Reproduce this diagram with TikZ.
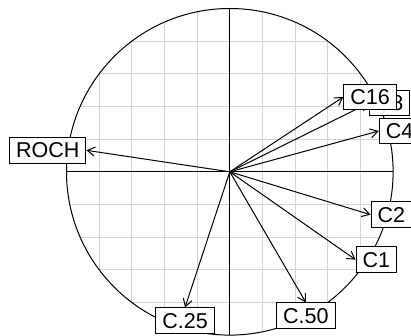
\documentclass[tikz,border=0pt]{standalone}
\usepackage{fontspec}
\setmainfont{Liberation Sans}
\usetikzlibrary{arrows.meta,backgrounds}
\begin{document}
\begin{tikzpicture}[x=1pt,y=-1pt,
  lbl/.style={draw=black, fill=white, line width=1pt, inner xsep=6.5pt, inner ysep=0pt,
    minimum height=25.5pt, text height=15.4pt, text depth=0pt,
    font=\fontsize{21.5}{24}\selectfont},
  vec/.style={line width=1pt, -{Straight Barb[length=7.5pt,width=9pt]}},
  gridline/.style={draw=black!17, line width=1.2pt},
  axisline/.style={line width=1pt},
  ]
\path[use as bounding box] (0,0) rectangle (411,336);
\clip (0,0) rectangle (411,336);
\coordinate (O) at (229.8,171.8);
\node[lbl] (roch) at (47.7,150.3) {ROCH};
\node[lbl] (c8) at (389.7,103) {C8};
\node[lbl] (c16) at (370,97) {C16};
\node[lbl] (c4) at (399.5,131) {C4};
\node[lbl] (c2) at (391.3,214.7) {C2};
\node[lbl] (c1) at (376.3,259.7) {C1};
\node[lbl] (c25) at (185,320.7) {C.25};
\node[lbl] (c50) at (305.8,315.7) {C.50};
\begin{scope}[on background layer]
  \begin{scope}
    \clip (O) circle [radius=163.3pt];
    \foreach \k in {-4,...,4}{
      \draw[gridline] (229.8+\k*32.66,0) -- (229.8+\k*32.66,340);
      \draw[gridline] (50,171.8+\k*32.66) -- (400,171.8+\k*32.66);
    }
  \end{scope}
  \draw[line width=1pt] (O) circle [radius=163.3pt];
  \draw[axisline] (66.5,171.8) -- (393.1,171.8);
  \draw[axisline] (229.8,8.5) -- (229.8,335.1);
  \draw[vec] (O) -- (roch.east);
  \draw[vec] (O) -- (c8.west);
  \draw[vec] (O) -- (c16.west);
  \draw[vec] (O) -- (c4.west);
  \draw[vec] (O) -- (c2.west);
  \draw[vec] (O) -- (c1.west);
  \draw[vec] (O) -- (c25.north);
  \draw[vec] (O) -- (c50.north);
\end{scope}
\end{tikzpicture}
\end{document}
